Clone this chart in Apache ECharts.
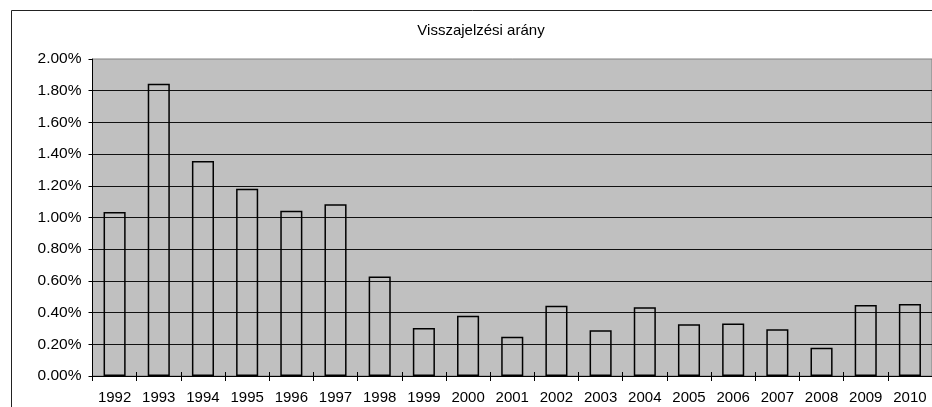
<!DOCTYPE html>
<html>
<head>
<meta charset="utf-8">
<script src="https://cdn.jsdelivr.net/npm/echarts@6/dist/echarts.min.js"></script>
<style>
html,body{margin:0;padding:0;background:#fff;}
#chart{width:932px;height:407px;}
</style>
</head>
<body>
<div id="chart"></div>
<script>
const titleText = 'Visszajelzési arány';
const years = ['1992','1993','1994','1995','1996','1997','1998','1999','2000','2001','2002','2003','2004','2005','2006','2007','2008','2009','2010'];
const rates = [1.035, 1.844, 1.356, 1.182, 1.043, 1.083, 0.627, 0.303, 0.380, 0.248, 0.444, 0.288, 0.433, 0.326, 0.332, 0.295, 0.179, 0.448, 0.454];
const yMin = 0, yMax = 2, yStep = 0.2;

const font = 'Liberation Sans, Arial, sans-serif';
const chart = echarts.init(document.getElementById('chart'));
chart.setOption({
  animation: false,
  backgroundColor: '#fff',
  graphic: [
    {type: 'rect', shape: {x: 11.5, y: 10.5, width: 960, height: 420}, style: {fill: 'none', stroke: '#222', lineWidth: 1}, z: 100},
    {type: 'text', x: 481, y: 31, style: {text: titleText, fontFamily: font, fontSize: 15, fill: '#000', textAlign: 'center', textVerticalAlign: 'middle'}}
  ],
  grid: {left: 92.5, top: 59, width: 844, height: 317, show: true, backgroundColor: '#C0C0C0', borderColor: '#808080', borderWidth: 1},
  xAxis: [{
    type: 'category', data: years, boundaryGap: true,
    axisLine: {show: true, lineStyle: {color: '#000', width: 1}},
    axisTick: {show: true, inside: false, length: 5, lineStyle: {color: '#000'}},
    axisLabel: {color: '#000', fontFamily: font, fontSize: 15, margin: 14},
    splitLine: {show: false}
  }, {
    type: 'category', data: years, boundaryGap: true, position: 'bottom',
    axisLine: {show: false},
    axisTick: {show: true, inside: true, length: 4, lineStyle: {color: '#000'}},
    axisLabel: {show: false},
    splitLine: {show: false}
  }],
  yAxis: {
    type: 'value', min: yMin, max: yMax, interval: yStep,
    axisLine: {show: true, lineStyle: {color: '#000', width: 1}},
    axisTick: {show: true, length: 4, lineStyle: {color: '#000'}},
    axisLabel: {color: '#000', fontFamily: font, fontSize: 15.5, margin: 11, formatter: v => v.toFixed(2) + '%'},
    splitLine: {show: true, showMaxLine: false, lineStyle: {color: '#111', width: 1.2}}
  },
  series: [{
    type: 'bar', data: rates, xAxisIndex: 0, barWidth: '50%',
    itemStyle: {color: 'rgba(0,0,0,0)', borderColor: '#000', borderWidth: 1.5},
    z: 5
  }]
});
</script>
</body>
</html>
